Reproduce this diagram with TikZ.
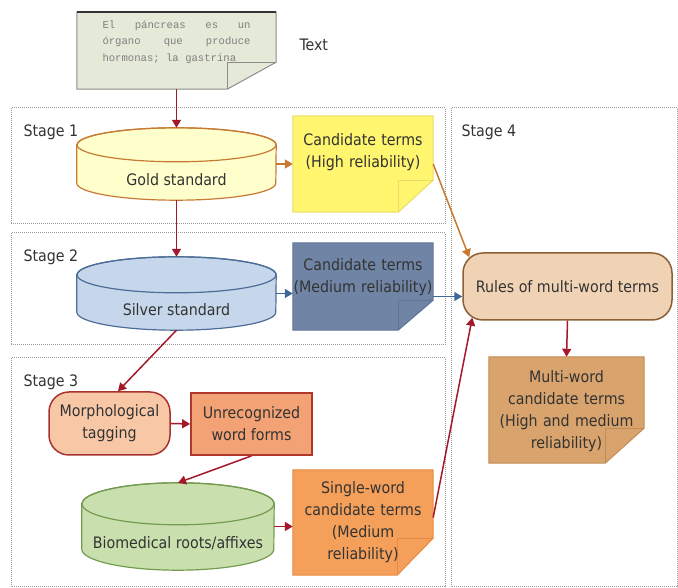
\documentclass[tikz,border=0pt]{standalone}
\usepackage{fontspec}
\setmainfont{DejaVu Sans Condensed}
\newfontfamily\monofont{Liberation Mono}
\usetikzlibrary{arrows.meta,backgrounds}

\definecolor{textgray}{HTML}{333333}
\definecolor{stagegray}{HTML}{9A9A9A}
\definecolor{arrowred}{HTML}{A3182A}
\definecolor{arroworange}{HTML}{C8782F}
\definecolor{arrowblue}{HTML}{3F6898}
\definecolor{txtfill}{HTML}{E5E9D8}
\definecolor{txtdraw}{HTML}{8C8C8C}
\definecolor{goldfill}{HTML}{FFFFCC}
\definecolor{golddraw}{HTML}{C77A35}
\definecolor{highfill}{HTML}{FFF56E}
\definecolor{highdraw}{HTML}{E8DC6A}
\definecolor{silverfill}{HTML}{C7D7EB}
\definecolor{silverdraw}{HTML}{4C6D98}
\definecolor{mediumfill}{HTML}{7085A6}
\definecolor{mediumdraw}{HTML}{5F7598}
\definecolor{rulesfill}{HTML}{F0D3B5}
\definecolor{rulesdraw}{HTML}{8D5F35}
\definecolor{multifill}{HTML}{D8A36C}
\definecolor{multidraw}{HTML}{C18C55}
\definecolor{morphfill}{HTML}{F8C8A6}
\definecolor{morphdraw}{HTML}{A8322E}
\definecolor{unrecfill}{HTML}{F2A274}
\definecolor{unrecdraw}{HTML}{B3382C}
\definecolor{biofill}{HTML}{C9E0AE}
\definecolor{biodraw}{HTML}{739C50}
\definecolor{singlefill}{HTML}{F5A05A}
\definecolor{singledraw}{HTML}{E98A40}

% folded page behind a node: node, fold x, fold y, fill, draw
\newcommand{\docshape}[5]{%
  \filldraw[fill=#4,draw=#5,line width=1pt] (#1.north west) -- (#1.north east)
    -- ([yshift=#3]#1.south east) -- ([xshift=-#2]#1.south east) -- (#1.south west) -- cycle;
  \draw[draw=#5,line width=0.8pt] ([xshift=-#2]#1.south east) -- ([xshift=-#2,yshift=#3]#1.south east)
    -- ([yshift=#3]#1.south east);
}
% drum behind a node: node, x radius, y radius, fill, draw
\newcommand{\cylshape}[5]{%
  \filldraw[fill=#4,draw=#5,line width=1.2pt] ([yshift=-#3]#1.north west) -- ([yshift=#3]#1.south west)
    arc[start angle=180,end angle=360,x radius=#2,y radius=#3] -- ([yshift=-#3]#1.north east)
    arc[start angle=0,end angle=180,x radius=#2,y radius=#3] -- cycle;
  \draw[draw=#5,line width=1.2pt] ([yshift=-#3]#1.north) ellipse[x radius=#2,y radius=#3];
}

\begin{document}
\begin{tikzpicture}[x=1pt,y=1pt,
  every node/.style={font=\fontsize{15.8}{22}\selectfont,text=textgray},
  doc/.style={inner sep=0pt,align=center,text height=12pt},
  cyl/.style={inner sep=0pt,text height=44pt,text depth=0pt},
  stagebox/.style={draw=stagegray,densely dotted,line width=1pt},
  arr/.style={-{Triangle[length=8pt,width=9pt]},line width=1.5pt,draw=#1}]
  \useasboundingbox (0,0) rectangle (678,588);

  % input text
  \node[doc,text width=199pt,minimum height=77pt,text height=8pt,text depth=52pt,
        font=\monofont\fontsize{10.6}{16.5}\selectfont,text=gray] (txt) at (176.5,537.5)
    {\makebox[148pt]{El\hfill páncreas\hfill es\hfill un}\\
     \makebox[148pt]{órgano\hfill que\hfill produce}\\
     \makebox[148pt][l]{hormonas;\hspace{6.4pt}la\hspace{6.4pt}gastrina}};
  \node[anchor=west] (txtlabel) at (296,543) {Text};

  % stage labels
  \node[anchor=west] (s1) at (20,456) {Stage 1};
  \node[anchor=west] (s2) at (20,331) {Stage 2};
  \node[anchor=west] (s3) at (20,206) {Stage 3};
  \node[anchor=west] (s4) at (458,456) {Stage 4};

  % stages 1 and 2
  \node[cyl,minimum width=199pt,minimum height=72pt] (gold) at (176.5,424) {Gold standard};
  \node[doc,text width=140pt,minimum height=96pt,text depth=49pt] (high) at (363,424)
    {Candidate terms\\(High reliability)};
  \node[cyl,minimum width=199pt,minimum height=73pt] (silver) at (176.5,294.5) {Silver standard};
  \node[doc,text width=140pt,minimum height=87pt,text depth=44pt] (medium) at (363,301.5)
    {Candidate terms\\(Medium reliability)};

  % stage 3
  \node[draw=morphdraw,fill=morphfill,line width=1.5pt,rounded corners=20pt,align=center,
        minimum width=121pt,minimum height=63pt,inner sep=0pt] (morph) at (109.5,164.5)
    {Morphological\\tagging};
  \node[draw=unrecdraw,fill=unrecfill,line width=1.8pt,align=center,
        minimum width=121pt,minimum height=62pt,inner sep=0pt] (unrec) at (251.5,164)
    {Unrecognized\\word forms};
  \node[cyl,minimum width=192pt,minimum height=87pt] (bio) at (178,61.5) {Biomedical roots/affixes};
  \node[doc,text width=140pt,minimum height=105pt,text depth=70pt] (single) at (363,65.5)
    {Single-word\\candidate terms\\(Medium\\reliability)};

  % stage 4
  \node[draw=rulesdraw,fill=rulesfill,line width=1.5pt,rounded corners=20pt,
        minimum width=209pt,minimum height=67pt,inner sep=0pt] (rules) at (567.5,301.5)
    {Rules of multi-word terms};
  \node[doc,text width=155pt,minimum height=106pt,text depth=67pt] (multi) at (566.5,178)
    {Multi-word\\candidate terms\\(High and medium\\reliability)};

  \begin{scope}[on background layer]
    \draw[stagebox] (11,480) rectangle (445,364);
    \draw[stagebox] (11,355) rectangle (445,243);
    \draw[stagebox] (11,230) rectangle (445,1);
    \draw[stagebox] (451,480) rectangle (677,1);
    \docshape{txt}{49pt}{27pt}{txtfill}{txtdraw}
    \draw[line width=1.6pt,draw=textgray] (txt.north west) -- (txt.north east);
    \docshape{high}{35pt}{32pt}{highfill}{highdraw}
    \docshape{medium}{35pt}{30pt}{mediumfill}{mediumdraw}
    \docshape{single}{36pt}{37pt}{singlefill}{singledraw}
    \docshape{multi}{39pt}{35pt}{multifill}{multidraw}
    \cylshape{gold}{99.5pt}{17pt}{goldfill}{golddraw}
    \cylshape{silver}{99.5pt}{18pt}{silverfill}{silverdraw}
    \cylshape{bio}{96pt}{21pt}{biofill}{biodraw}
  \end{scope}

  \draw[arr=arrowred] (txt.south) -- (gold.north);
  \draw[arr=arroworange] (gold.east) -- (high.west);
  \draw[arr=arrowred] (gold.south) -- (silver.north);
  \draw[arr=arrowblue] (silver.east) -- (silver.east -| medium.west);
  \draw[arr=arroworange] (high.east) -- ([xshift=7pt,yshift=-5pt]rules.north west);
  \draw[arr=arrowblue] ([yshift=-10pt]medium.east) -- ([yshift=-10pt]medium.east -| rules.west);
  \draw[arr=arrowred] ([yshift=5pt]single.east) -- ([xshift=10pt,yshift=3pt]rules.south west);
  \draw[arr=arrowred] (rules.south) -- (multi.north);
  \draw[arr=arrowred] (silver.south) -- ([xshift=8.5pt]morph.north);
  \draw[arr=arrowred] (morph.east) -- (unrec.west);
  \draw[arr=arrowred] (unrec.south) -- (bio.north);
  \draw[arr=arrowred] (bio.east) -- (bio.east -| single.west);
\end{tikzpicture}
\end{document}
